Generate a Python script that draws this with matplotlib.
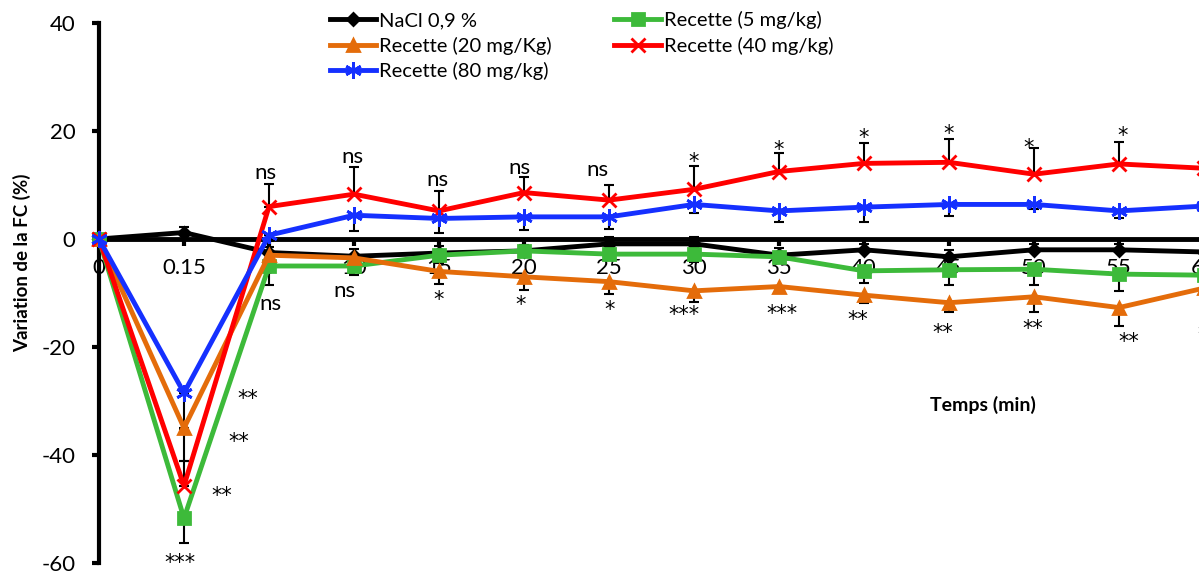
#!/usr/bin/env python3
"""Variation de la FC (%) en fonction du temps : NaCl vs Recette."""
import matplotlib

matplotlib.use("Agg")
import matplotlib.pyplot as plt

plt.rcParams["font.family"] = ["Lato", "DejaVu Sans"]
plt.rcParams["axes.unicode_minus"] = False

TIMES = ["0", "0.15", "5", "10", "15", "20", "25", "30", "35", "40", "45", "50", "55", "60"]

NACL = [0, 1.2, -2.5, -3.2, -2.6, -2.2, -0.9, -0.9, -3.0, -2.0, -3.3, -2.0, -2.0, -2.4]
R5 = [0, -51.7, -5.0, -5.0, -3.0, -2.2, -2.8, -2.8, -3.3, -5.9, -5.7, -5.6, -6.5, -6.7]
R20 = [0, -35.0, -3.0, -3.5, -6.0, -7.0, -7.9, -9.6, -8.8, -10.4, -11.8, -10.7, -12.7, -9.1]
R40 = [0, -45.7, 6.0, 8.3, 5.2, 8.6, 7.2, 9.2, 12.5, 14.0, 14.2, 12.0, 13.9, 13.1]
R80 = [0, -28.5, 0.7, 4.4, 3.8, 4.1, 4.1, 6.4, 5.2, 5.9, 6.4, 6.4, 5.2, 6.1]

# erreurs (un seul sens, comme dans Excel)
NACL_ERR = [0, 1.1, 1.0, 1.3, 1.3, 1.0, 1.2, 1.2, 1.3, 1.0, 1.3, 1.0, 1.0, 1.0]
R5_ERR = [0, 4.6, 3.5, 1.7, 1.5, 1.0, 1.0, 1.5, 1.0, 2.3, 2.8, 2.9, 3.1, 2.5]
R20_ERR = [0, 6.1, 1.0, 1.0, 2.3, 2.4, 2.3, 2.0, 1.0, 1.4, 1.7, 2.8, 3.4, 2.0]
R40_ERR = [0, 4.6, 4.2, 5.1, 3.7, 2.8, 2.8, 4.3, 3.5, 3.8, 4.3, 4.8, 4.1, 4.0]
R80_ERR = [0, 6.6, 1.0, 3.0, 2.6, 2.4, 2.3, 1.5, 2.0, 2.7, 2.1, 0.9, 1.4, 2.0]

LABELS = ["NaCl 0,9 %", "Recette (5 mg/kg)", "Recette (20 mg/Kg)",
          "Recette (40 mg/kg)", "Recette (80 mg/kg)"]

# (texte, index de temps, y)
SIGNIF = [
    ("ns", 1.96, 12.2), ("ns", 2.02, -12.0), ("ns", 2.98, 15.2), ("ns", 2.89, -9.6),
    ("ns", 3.98, 10.9), ("*", 3.99, -10.0), ("ns", 4.95, 13.1), ("ns", 5.86, 12.8),
    ("*", 6.99, 15.6), ("*", 7.99, 17.8), ("*", 8.99, 20.0), ("*", 9.99, 20.7),
    ("*", 10.94, 18.1), ("*", 12.04, 20.4), ("*", 13.0, 18.3),
    ("*", 4.96, -10.9), ("*", 6.01, -11.9), ("***", 6.88, -12.8), ("***", 8.04, -12.6),
    ("**", 8.93, -13.7), ("**", 9.93, -16.1), ("**", 10.98, -15.4), ("**", 12.12, -17.8),
    ("**", 13.05, -16.5),
    ("**", 1.75, -28.3), ("**", 1.65, -36.3), ("**", 1.45, -46.3), ("***", 0.95, -58.7),
]

fig = plt.figure(figsize=(11.99, 5.71), dpi=100)
ax = fig.add_axes([99 / 1199, 8 / 571, 85 * 13.3 / 1199, 540 / 571])

x = list(range(len(TIMES)))
series = [
    (NACL, NACL_ERR, "up", "black", "D", 6),
    (R5, R5_ERR, "down", "#3dba3a", "s", 8),
    (R20, R20_ERR, "down", "#e46c0a", "^", 9),
    (R40, R40_ERR, "up", "#ff0000", "x", 10),
    (R80, R80_ERR, "down", "#1530ff", (6, 2, 0), 12),
]

handles = []
for (vals, err, side, col, mk, ms), lab in zip(series, LABELS):
    zero = [0] * len(err)
    yerr = [zero, err] if side == "up" else [err, zero]
    ax.errorbar(x, vals, yerr=yerr, fmt="none", ecolor="black", elinewidth=1.5,
                capsize=3.5, capthick=1.5, zorder=2)
    (h,) = ax.plot(x, vals, color=col, lw=3.5, marker=mk, ms=ms, mew=2,
                   mfc=col, mec=col, label=lab, zorder=3, clip_on=False)
    handles.append(h)

ax.set_xlim(0, 13.3)
ax.set_ylim(-60, 40)
ax.set_yticks([-60, -40, -20, 0, 20, 40])
ax.set_xticks(x)
ax.set_xticklabels(TIMES)

for s in ["top", "right"]:
    ax.spines[s].set_visible(False)
ax.spines["bottom"].set_position(("data", 0))
ax.spines["left"].set_position(("data", 0))
ax.spines["bottom"].set_linewidth(3.5)
ax.spines["left"].set_linewidth(3)
ax.spines["bottom"].set_zorder(2.5)
ax.tick_params(axis="y", direction="out", length=5, width=3, labelsize=16, pad=12)
ax.tick_params(axis="x", direction="out", length=5, width=3, labelsize=16, pad=9)

for txt, tx, ty in SIGNIF:
    if "*" in txt:
        # l'astérisque est dessiné haut dans sa ligne : on le recentre
        ax.annotate(txt, (tx, ty), xytext=(0, -5), textcoords="offset points",
                    ha="center", va="center", fontsize=15, family="DejaVu Sans",
                    zorder=4, annotation_clip=False)
    else:
        ax.text(tx, ty, txt, ha="center", va="center", fontsize=16, zorder=4,
                clip_on=False)

fig.text(22 / 1199, 1 - 263 / 571, "Variation de la FC (%)", rotation=90,
         ha="center", va="center", fontsize=13.5, fontweight="bold")
fig.text(983 / 1199, 1 - 405 / 571, "Temps (min)", ha="center", va="center",
         fontsize=14, fontweight="bold")

# ordre pour remplir ligne par ligne (matplotlib remplit par colonne)
order = [0, 2, 4, 1, 3]
fig.legend([handles[i] for i in order], [LABELS[i] for i in order],
           loc="upper left", bbox_to_anchor=(330 / 1199, 1 - 11 / 571), ncol=2,
           frameon=False, fontsize=14.5, handlelength=2.3, handletextpad=0.15,
           labelspacing=0.38, columnspacing=3.1, borderpad=0, borderaxespad=0)

fig.savefig("out.png", dpi=100)
